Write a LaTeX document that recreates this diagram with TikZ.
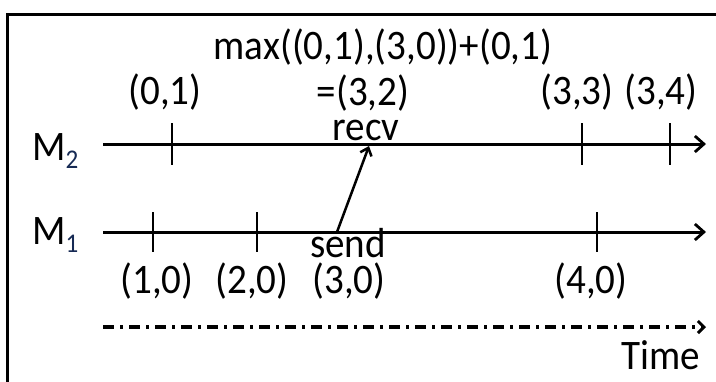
\documentclass[tikz,border=0pt]{standalone}
\usepackage{fontspec}
\setmainfont{Carlito}[FakeStretch=0.93]
\usetikzlibrary{arrows.meta}
\definecolor{subblue}{RGB}{22,42,84}
\newcommand{\subdig}[1]{{\fontsize{27}{27}\selectfont\raisebox{-8pt}{\color{subblue}#1}}}
\begin{document}
\begin{tikzpicture}[x=1pt,y=-1pt,
  txt/.style={font=\fontsize{42}{50}\selectfont, inner sep=0pt},
  axis/.style={line width=3pt, -{Straight Barb[length=9pt,width=16pt,line width=2.8pt]}},
  tickline/.style={line width=2.5pt},
  timeline/.style={line width=3.2pt, dash pattern=on 11pt off 6pt on 3pt off 6pt, -{Straight Barb[length=6pt,width=12pt,line width=3pt]}},
  msg/.style={line width=2.5pt, -{Straight Barb[length=7pt,width=12pt,line width=2.5pt]}}
]
\useasboundingbox (0,0) rectangle (716,381);
\clip (0,0) rectangle (716,381);
\fill[white] (0,0) rectangle (716,381);
\draw[line width=3pt] (7,420) rectangle (740,14);

% process lines
\coordinate (m2s) at (103,144);
\coordinate (m2e) at (706,144);
\coordinate (m1s) at (103,232);
\coordinate (m1e) at (706,232);
\draw[axis] (m2s) -- (m2e);
\draw[axis] (m1s) -- (m1e);

% ticks
\foreach \n/\x in {a/172,b/582,c/670} {
  \coordinate (t2\n) at (\x,144);
  \draw[tickline] (t2\n) ++(0,-21) -- ++(0,42);
}
\foreach \n/\x in {a/153,b/257,c/597} {
  \coordinate (t1\n) at (\x,232);
  \draw[tickline] (t1\n) ++(0,-20) -- ++(0,40);
}

% message
\coordinate (send) at (337,232);
\coordinate (recv) at (369,146);
\draw[msg] (send) -- (recv);

% time axis
\coordinate (ts) at (103,327);
\coordinate (te) at (706,327);
\draw[timeline] (ts) -- (te);

% labels
\node[txt, anchor=base west] (lm2) at (32,160) {M\subdig{2}};
\node[txt, anchor=base west] (lm1) at (32,244) {M\subdig{1}};

\node[txt, anchor=base] (maxl) at (383,59) {max((0,1),(3,0))+(0,1)};
\node[txt, anchor=base] (l01) at (165,104) {(0,1)};
\node[txt, anchor=base] (l32) at (363,105) {=(3,2)};
\node[txt, anchor=base] (lrecv) at (366,140) {recv};
\node[txt, anchor=base] (l33) at (577,104) {(3,3)};
\node[txt, anchor=base] (l34) at (661,104) {(3,4)};

\node[txt, anchor=base] (lsend) at (348,257) {send};
\node[txt, anchor=base] (l10) at (157,293) {(1,0)};
\node[txt, anchor=base] (l20) at (252,293) {(2,0)};
\node[txt, anchor=base] (l30) at (349,293) {(3,0)};
\node[txt, anchor=base] (l40) at (591,293) {(4,0)};
\node[txt, anchor=base east] (ltime) at (700,369) {Time};
\end{tikzpicture}
\end{document}
